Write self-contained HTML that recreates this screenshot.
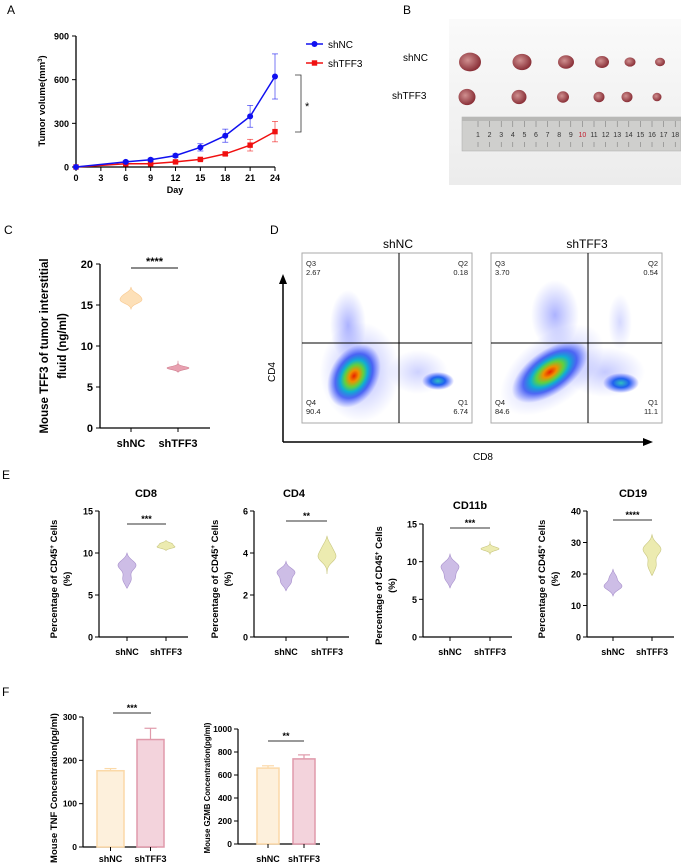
<!DOCTYPE html>
<html><head><meta charset="utf-8"><style>
html,body{margin:0;padding:0;background:#fff;}
svg{display:block;font-family:"Liberation Sans",Arial,sans-serif;}
.b{font-weight:bold;}
</style></head><body>
<svg id="fig" width="681" height="866" viewBox="0 0 681 866" xmlns="http://www.w3.org/2000/svg">
<defs>
<radialGradient id="dens" cx="50%" cy="50%" r="50%">
<stop offset="0" stop-color="#e82000"/><stop offset="0.18" stop-color="#f09000"/><stop offset="0.35" stop-color="#60d040"/><stop offset="0.5" stop-color="#10b0d0"/><stop offset="0.7" stop-color="#2040f0" stop-opacity="0.75"/><stop offset="1" stop-color="#4050ff" stop-opacity="0"/>
</radialGradient>
<radialGradient id="dens2" cx="50%" cy="50%" r="50%">
<stop offset="0" stop-color="#30c0c0"/><stop offset="0.45" stop-color="#2060f0"/><stop offset="1" stop-color="#3040ff" stop-opacity="0"/>
</radialGradient>
<radialGradient id="sparse" cx="50%" cy="50%" r="50%">
<stop offset="0" stop-color="#3040ff" stop-opacity="0.4"/><stop offset="1" stop-color="#4050ff" stop-opacity="0"/>
</radialGradient>
<radialGradient id="tum" cx="40%" cy="40%" r="60%">
<stop offset="0" stop-color="#d09090"/><stop offset="1" stop-color="#8a3038"/>
</radialGradient>
<linearGradient id="photo" x1="0" y1="0" x2="0" y2="1"><stop offset="0" stop-color="#fafafa"/><stop offset="1" stop-color="#ececec"/></linearGradient>
</defs>

<text x="7" y="14" font-size="12">A</text>
<text x="403" y="14" font-size="12">B</text>
<text x="4" y="234" font-size="12">C</text>
<text x="270" y="234" font-size="12">D</text>
<text x="2" y="479" font-size="12">E</text>
<text x="2" y="696" font-size="12">F</text>

<g id="panelA"></g>

<g>
<text x="403" y="61" font-size="10">shNC</text>
<text x="392" y="99" font-size="10">shTFF3</text>
<rect x="449" y="19" width="232" height="166" fill="url(#photo)"/>
<g id="tumors"></g>
<rect x="462" y="117" width="219" height="34" fill="#cfcfcd" stroke="#aaa" stroke-width="0.5"/>
<rect x="462" y="117" width="219" height="4" fill="#b8b8b6"/>
<g id="ruler" fill="#444"></g>
</g>

<g id="panelC"></g>

<g>
<line x1="283" y1="442" x2="283" y2="282" stroke="#000" stroke-width="1.5"/>
<polygon points="283,274 279,284 287,284" fill="#000"/>
<line x1="283" y1="442" x2="645" y2="442" stroke="#000" stroke-width="1.5"/>
<polygon points="653,442 643,438 643,446" fill="#000"/>
<text x="275" y="372" font-size="10" transform="rotate(-90 275 372)" text-anchor="middle">CD4</text>
<text x="483" y="460" font-size="10" text-anchor="middle">CD8</text>
<text x="398" y="248" font-size="12" text-anchor="middle">shNC</text>
<text x="587" y="248" font-size="12" text-anchor="middle">shTFF3</text>
<g id="flow1">
<rect x="302" y="253" width="170" height="170" fill="#fff" stroke="#aaa"/>
<ellipse cx="348" cy="325" rx="18" ry="35" fill="url(#sparse)"/>
<ellipse cx="418" cy="372" rx="30" ry="22" fill="url(#sparse)" opacity="0.6"/>
<ellipse cx="360" cy="372" rx="40" ry="50" fill="url(#sparse)"/>
<ellipse cx="354" cy="376" rx="24" ry="34" fill="url(#dens)" transform="rotate(30 354 376)"/>
<ellipse cx="438" cy="381" rx="16" ry="9" fill="url(#dens2)"/>
<line x1="399" y1="253" x2="399" y2="423" stroke="#000"/>
<line x1="302" y1="343" x2="472" y2="343" stroke="#000"/>
<g font-size="7.5" fill="#222"><text x="306" y="266">Q3</text><text x="306" y="275">2.67</text>
<text x="468" y="266" text-anchor="end">Q2</text><text x="468" y="275" text-anchor="end">0.18</text>
<text x="306" y="405">Q4</text><text x="306" y="414">90.4</text>
<text x="468" y="405" text-anchor="end">Q1</text><text x="468" y="414" text-anchor="end">6.74</text></g>
</g>
<g id="flow2">
<rect x="491" y="253" width="171" height="170" fill="#fff" stroke="#aaa"/>
<ellipse cx="555" cy="315" rx="24" ry="35" fill="url(#sparse)"/>
<ellipse cx="620" cy="322" rx="12" ry="28" fill="url(#sparse)" opacity="0.5"/>
<ellipse cx="605" cy="372" rx="40" ry="25" fill="url(#sparse)" opacity="0.7"/>
<ellipse cx="552" cy="370" rx="34" ry="60" fill="url(#sparse)" transform="rotate(52 552 370)"/>
<ellipse cx="550" cy="372" rx="22" ry="44" fill="url(#dens)" transform="rotate(55 550 372)"/>
<ellipse cx="621" cy="383" rx="18" ry="10" fill="url(#dens2)"/>
<line x1="588" y1="253" x2="588" y2="423" stroke="#000"/>
<line x1="491" y1="343" x2="662" y2="343" stroke="#000"/>
<g font-size="7.5" fill="#222"><text x="495" y="266">Q3</text><text x="495" y="275">3.70</text>
<text x="658" y="266" text-anchor="end">Q2</text><text x="658" y="275" text-anchor="end">0.54</text>
<text x="495" y="405">Q4</text><text x="495" y="414">84.6</text>
<text x="658" y="405" text-anchor="end">Q1</text><text x="658" y="414" text-anchor="end">11.1</text></g>
</g>
</g>

<g id="panelE"></g>
<g id="panelF"></g>
</svg>
<script>
// ---------- Panel A data ----------
const days = [0, 6, 9, 12, 15, 18, 21, 24];
const shNCVol = [0, 35, 50, 78, 135, 215, 348, 622];
const shNCErr = [0, 8, 10, 12, 25, 45, 75, 155];
const shTFF3Vol = [0, 22, 22, 35, 52, 90, 150, 243];
const shTFF3Err = [0, 5, 5, 6, 8, 12, 40, 70];
const aXTicks = [0, 3, 6, 9, 12, 15, 18, 21, 24];
const aYTicks = [0, 300, 600, 900];

// ---------- Panel C data ----------
const cGroups = ["shNC", "shTFF3"];
const cMin = [14.5, 6.8];
const cMax = [17.2, 8.2];
const cModes = [[[15.5, 1], [16.2, 0.7]], [[7.3, 1]]];
const cYTicks = [0, 5, 10, 15, 20];

// ---------- Panel E data ----------
const eTitles = ["CD8", "CD4", "CD11b", "CD19"];
const eYMax = [15, 6, 15, 40];
const eYTicks = [[0, 5, 10, 15], [0, 2, 4, 6], [0, 5, 10, 15], [0, 10, 20, 30, 40]];
const eSig = ["***", "**", "***", "****"];
const eNCMin = [5.8, 2.2, 6.5, 13];
const eNCMax = [10, 3.6, 11, 21.5];
const eNCModes = [[[8.6, 1], [6.8, 0.5]], [[3.1, 1], [2.6, 0.6]], [[9.4, 1], [7.8, 0.6]], [[16, 1], [19, 0.4]]];
const eTFMin = [10.3, 3.0, 11.0, 19.5];
const eTFMax = [11.5, 4.8, 12.7, 32.5];
const eTFModes = [[[10.7, 1], [11.1, 0.7]], [[3.8, 1], [4.3, 0.5]], [[11.7, 1]], [[28, 1], [22.5, 0.5]]];

// ---------- Panel F data ----------
const fTitles = ["Mouse TNF Concentration(pg/ml)", "Mouse GZMB Concentration(pg/ml)"];
const fNC = [176, 660];
const fNCErr = [5, 20];
const fTF = [248, 740];
const fTFErr = [26, 35];
const fYMax = [300, 1000];
const fYTicks = [[0, 100, 200, 300], [0, 200, 400, 600, 800, 1000]];
const fSig = ["***", "**"];

const NS = "http://www.w3.org/2000/svg";
function mk(parent, tag, attrs, text) {
  const e = document.createElementNS(NS, tag);
  for (const k in attrs) e.setAttribute(k, attrs[k]);
  if (text !== undefined) e.textContent = text;
  parent.appendChild(e);
  return e;
}
function linScale(d0, d1, r0, r1) { return v => r0 + (v - d0) / (d1 - d0) * (r1 - r0); }

// ----- Panel A -----
(function () {
  const g = document.getElementById("panelA");
  const x = linScale(0, 24, 76, 275), y = linScale(0, 900, 167, 36);
  mk(g, "line", { x1: 76, y1: 36, x2: 76, y2: 167, stroke: "#000", "stroke-width": 1.3 });
  mk(g, "line", { x1: 76, y1: 167, x2: 275, y2: 167, stroke: "#000", "stroke-width": 1.3 });
  aYTicks.forEach(t => {
    mk(g, "line", { x1: 72, y1: y(t), x2: 76, y2: y(t), stroke: "#000" });
    const tl = mk(g, "text", { x: 69, y: y(t) + 3.5, "font-size": 9, "text-anchor": "end", class: "b" }, t);
    
    
  });
  aXTicks.forEach(t => {
    mk(g, "line", { x1: x(t), y1: 167, x2: x(t), y2: 171, stroke: "#000" });
    const tl = mk(g, "text", { x: x(t), y: 181, "font-size": 9, "text-anchor": "middle", class: "b" }, t);
    
    
  });
  const xt = mk(g, "text", { x: 175, y: 193, "font-size": 9, "text-anchor": "middle", class: "b" }, "Day");
  
  
  const yt = mk(g, "text", { x: 45, y: 101, "font-size": 9.5, "text-anchor": "middle", class: "b", transform: "rotate(-90 45 101)" });
  yt.innerHTML = 'Tumor volume(mm<tspan baseline-shift="super" font-size="6">3</tspan>)';
  
  
  function series(vals, errs, col, shape, name) {
    const sg = mk(g, "g", {});
    
    
    days.forEach((d, i) => {
      if (errs[i] > 0) {
        mk(sg, "line", { x1: x(d), y1: y(vals[i] - errs[i]), x2: x(d), y2: y(vals[i] + errs[i]), stroke: col, "stroke-width": 0.8, opacity: 0.7 });
        mk(sg, "line", { x1: x(d) - 3, y1: y(vals[i] + errs[i]), x2: x(d) + 3, y2: y(vals[i] + errs[i]), stroke: col, "stroke-width": 0.8, opacity: 0.7 });
        mk(sg, "line", { x1: x(d) - 3, y1: y(vals[i] - errs[i]), x2: x(d) + 3, y2: y(vals[i] - errs[i]), stroke: col, "stroke-width": 0.8, opacity: 0.7 });
      }
    });
    mk(sg, "polyline", { points: days.map((d, i) => x(d) + "," + y(vals[i])).join(" "), fill: "none", stroke: col, "stroke-width": 1.5 });
    days.forEach((d, i) => {
      let m;
      if (shape === "c") m = mk(sg, "circle", { cx: x(d), cy: y(vals[i]), r: 3, fill: col });
      else m = mk(sg, "rect", { x: x(d) - 2.7, y: y(vals[i]) - 2.7, width: 5.4, height: 5.4, fill: col });
      
      
    });
  }
  series(shTFF3Vol, shTFF3Err, "#f01010", "s", "series-shtff3");
  series(shNCVol, shNCErr, "#1010f0", "c", "series-shnc");
  const lg = mk(g, "g", {});
  
  
  mk(lg, "line", { x1: 306, y1: 44, x2: 323, y2: 44, stroke: "#1010f0", "stroke-width": 1.5 });
  mk(lg, "circle", { cx: 314.5, cy: 44, r: 3, fill: "#1010f0" });
  mk(lg, "text", { x: 328, y: 48, "font-size": 10 }, "shNC");
  mk(lg, "line", { x1: 306, y1: 63, x2: 323, y2: 63, stroke: "#f01010", "stroke-width": 1.5 });
  mk(lg, "rect", { x: 311.8, y: 60.3, width: 5.4, height: 5.4, fill: "#f01010" });
  mk(lg, "text", { x: 328, y: 67, "font-size": 10 }, "shTFF3");
  mk(g, "polyline", { points: "295,75 301,75 301,132 295,132", fill: "none", stroke: "#333", "stroke-width": 0.8 });
  mk(g, "text", { x: 305, y: 110, "font-size": 11 }, "*");
})();

// ----- Tumors & ruler (photo illustration) -----
(function () {
  const g = document.getElementById("tumors");
  const xs = [470, 522, 566, 602, 630, 660];
  const r1 = [11, 9.5, 8, 7, 5.5, 5], r2 = [8.5, 7.5, 6, 5.5, 5.5, 4.5];
  xs.forEach((cx, i) => {
    mk(g, "ellipse", { cx: cx, cy: 62, rx: r1[i], ry: r1[i] * 0.85, fill: "url(#tum)" });
    mk(g, "ellipse", { cx: cx - 3, cy: 97, rx: r2[i], ry: r2[i] * 0.95, fill: "url(#tum)" });
  });
  const rg = document.getElementById("ruler");
  for (let n = 1; n <= 18; n++) {
    const xx = 478 + (n - 1) * 11.6;
    mk(rg, "text", { x: xx, y: 137, "font-size": 7, "text-anchor": "middle", fill: n === 10 ? "#c02030" : "#333" }, n);
    mk(rg, "line", { x1: xx, y1: 121, x2: xx, y2: 127, stroke: "#555", "stroke-width": 0.4 });
    mk(rg, "line", { x1: xx, y1: 142, x2: xx, y2: 147, stroke: "#555", "stroke-width": 0.4 });
  }
})();

function violinPath(cx, y, vmin, vmax, modes, maxHalf) {
  const sd = (vmax - vmin) / 5;
  const N = 30;
  let mx = 0; const ws = [];
  for (let i = 0; i <= N; i++) {
    const v = vmin + (vmax - vmin) * i / N;
    let w = 0; modes.forEach(m => { w += m[1] * Math.exp(-Math.pow((v - m[0]) / sd, 2)); });
    const taper = Math.sin(Math.PI * i / N);
    w *= Math.pow(taper, 0.35);
    ws.push([v, w]); mx = Math.max(mx, w);
  }
  const right = ws.map(p => (cx + p[1] / mx * maxHalf) + "," + y(p[0]));
  const left = ws.slice().reverse().map(p => (cx - p[1] / mx * maxHalf) + "," + y(p[0]));
  return "M" + right.join(" L") + " L" + left.join(" L") + "Z";
}

// ----- Panel C -----
(function () {
  const g = document.getElementById("panelC");
  const y = linScale(0, 20, 428, 264);
  const xs = [131, 178];
  mk(g, "line", { x1: 100, y1: 264, x2: 100, y2: 428, stroke: "#000", "stroke-width": 1.3 });
  mk(g, "line", { x1: 100, y1: 428, x2: 210, y2: 428, stroke: "#000", "stroke-width": 1.3 });
  cYTicks.forEach(t => {
    mk(g, "line", { x1: 96, y1: y(t), x2: 100, y2: y(t), stroke: "#000" });
    const tl = mk(g, "text", { x: 93, y: y(t) + 4, "font-size": 11, "text-anchor": "end", class: "b" }, t);
    
    
  });
  const cols = [["#fde0b8", "#f8c890"], ["#e8a0b0", "#d08090"]];
  cGroups.forEach((gr, i) => {
    mk(g, "line", { x1: xs[i], y1: 428, x2: xs[i], y2: 432, stroke: "#000" });
    const tl = mk(g, "text", { x: xs[i], y: 447, "font-size": 11, "text-anchor": "middle", class: "b" }, gr);
    
    
    const v = mk(g, "path", { d: violinPath(xs[i], y, cMin[i], cMax[i], cModes[i], 11), fill: cols[i][0], stroke: cols[i][1], "stroke-width": 0.6 });
    
    
  });
  mk(g, "line", { x1: 131, y1: 268, x2: 178, y2: 268, stroke: "#444", "stroke-width": 1.2 });
  mk(g, "text", { x: 154.5, y: 265, "font-size": 11, "text-anchor": "middle", class: "b" }, "****");
  const t1 = mk(g, "text", { x: 48, y: 346, "font-size": 11.5, "text-anchor": "middle", class: "b", transform: "rotate(-90 48 346)" }, "Mouse TFF3 of tumor interstitial");
  
  
  mk(g, "text", { x: 66, y: 346, "font-size": 11.5, "text-anchor": "middle", class: "b", transform: "rotate(-90 66 346)" }, "fluid (ng/ml)");
})();

// ----- Panel E -----
(function () {
  const root = document.getElementById("panelE");
  const ax = [99, 254, 423, 587];
  const grpX = [[127, 166], [286, 327], [450, 490], [613, 652]];
  const top = [511, 511, 524, 511];
  const titleY = [497, 497, 509, 497];
  const titleX = [146, 294, 470, 633];
  const sigY = [524, 521, 528, 520];
  const ytX = [57, 218, 382, 545];
  const y0 = 637;
  eTitles.forEach((tt, k) => {
    const g = mk(root, "g", {});
    
    
    const y = linScale(0, eYMax[k], y0, top[k]);
    const x0 = grpX[k][0], x1 = grpX[k][1];
    mk(g, "line", { x1: ax[k], y1: top[k], x2: ax[k], y2: y0, stroke: "#000", "stroke-width": 1.2 });
    mk(g, "line", { x1: ax[k], y1: y0, x2: x1 + 22, y2: y0, stroke: "#000", "stroke-width": 1.2 });
    eYTicks[k].forEach(t => {
      mk(g, "line", { x1: ax[k] - 4, y1: y(t), x2: ax[k], y2: y(t), stroke: "#000" });
      const tl = mk(g, "text", { x: ax[k] - 6, y: y(t) + 3.5, "font-size": 9, "text-anchor": "end", class: "b" }, t);
      
      
    });
    [x0, x1].forEach((xx, i) => {
      mk(g, "line", { x1: xx, y1: y0, x2: xx, y2: y0 + 4, stroke: "#000" });
      const tl = mk(g, "text", { x: xx, y: 655, "font-size": 9, "text-anchor": "middle", class: "b" }, i ? "shTFF3" : "shNC");
      
      
    });
    const tl = mk(g, "text", { x: titleX[k], y: titleY[k], "font-size": 11, "text-anchor": "middle", class: "b" }, tt);
    
    
    const v1 = mk(g, "path", { d: violinPath(x0, y, eNCMin[k], eNCMax[k], eNCModes[k], 9), fill: "#cdbde6", stroke: "#a890cc", "stroke-width": 0.6 });
    
    
    const v2 = mk(g, "path", { d: violinPath(x1, y, eTFMin[k], eTFMax[k], eTFModes[k], 9), fill: "#ecebb0", stroke: "#c8c680", "stroke-width": 0.6 });
    
    
    mk(g, "line", { x1: x0, y1: sigY[k], x2: x1, y2: sigY[k], stroke: "#333", "stroke-width": 1 });
    mk(g, "text", { x: (x0 + x1) / 2, y: sigY[k] - 2, "font-size": 9, "text-anchor": "middle", class: "b" }, eSig[k]);
    const yc = (y0 + top[k]) / 2 + 5, tx = ytX[k];
    const yt = mk(g, "text", { x: tx, y: yc, "font-size": 9.5, "text-anchor": "middle", class: "b", transform: "rotate(-90 " + tx + " " + yc + ")" });
    yt.innerHTML = 'Percentage of CD45<tspan baseline-shift="super" font-size="6">+</tspan> Cells';
    
    
    mk(g, "text", { x: tx + 13, y: yc, "font-size": 9.5, "text-anchor": "middle", class: "b", transform: "rotate(-90 " + (tx + 13) + " " + yc + ")" }, "(%)");
  });
})();

// ----- Panel F -----
(function () {
  const root = document.getElementById("panelF");
  const ax = [83, 238], y0s = [847, 844], tops = [717, 729], ends = [157, 320];
  const barX = [[97, 137], [257, 293]], bw = [27, 22];
  const sigY = [713, 741], sigX = [[113, 151], [268, 304]];
  const titleX = [57, 210];
  fTitles.forEach((tt, k) => {
    const g = mk(root, "g", {});
    
    
    const y = linScale(0, fYMax[k], y0s[k], tops[k]);
    mk(g, "line", { x1: ax[k], y1: tops[k], x2: ax[k], y2: y0s[k], stroke: "#000", "stroke-width": 1.2 });
    mk(g, "line", { x1: ax[k], y1: y0s[k], x2: ends[k], y2: y0s[k], stroke: "#000", "stroke-width": 1.2 });
    fYTicks[k].forEach(t => {
      mk(g, "line", { x1: ax[k] - 4, y1: y(t), x2: ax[k], y2: y(t), stroke: "#000" });
      const tl = mk(g, "text", { x: ax[k] - 6, y: y(t) + 3, "font-size": 8.5, "text-anchor": "end", class: "b" }, t);
      
      
    });
    const vals = [fNC[k], fTF[k]], errs = [fNCErr[k], fTFErr[k]];
    const fills = [["#fdf0dc", "#fbd9a8"], ["#f3d3dc", "#e09aab"]];
    vals.forEach((v, i) => {
      const bx = barX[k][i];
      const r = mk(g, "rect", { x: bx, y: y(v), width: bw[k], height: y0s[k] - y(v), fill: fills[i][0], stroke: fills[i][1], "stroke-width": 1.5 });
      
      
      const cx = bx + bw[k] / 2;
      mk(g, "line", { x1: cx, y1: y(v), x2: cx, y2: y(v + errs[i]), stroke: fills[i][1], "stroke-width": 1.2 });
      mk(g, "line", { x1: cx - 6, y1: y(v + errs[i]), x2: cx + 6, y2: y(v + errs[i]), stroke: fills[i][1], "stroke-width": 1.2 });
      mk(g, "line", { x1: cx, y1: y0s[k], x2: cx, y2: y0s[k] + 4, stroke: "#000" });
      const tl = mk(g, "text", { x: cx, y: 862, "font-size": 9, "text-anchor": "middle", class: "b" }, i ? "shTFF3" : "shNC");
      
      
    });
    mk(g, "line", { x1: sigX[k][0], y1: sigY[k], x2: sigX[k][1], y2: sigY[k], stroke: "#333", "stroke-width": 0.9 });
    mk(g, "text", { x: (sigX[k][0] + sigX[k][1]) / 2, y: sigY[k] - 2, "font-size": 9, "text-anchor": "middle", class: "b" }, fSig[k]);
    const yc = 788;
    const yt = mk(g, "text", { x: titleX[k], y: yc, "font-size": k ? 7.8 : 9.5, "text-anchor": "middle", class: "b", transform: "rotate(-90 " + titleX[k] + " " + yc + ")" }, tt);
    
    
  });
})();
</script>
</body></html>
